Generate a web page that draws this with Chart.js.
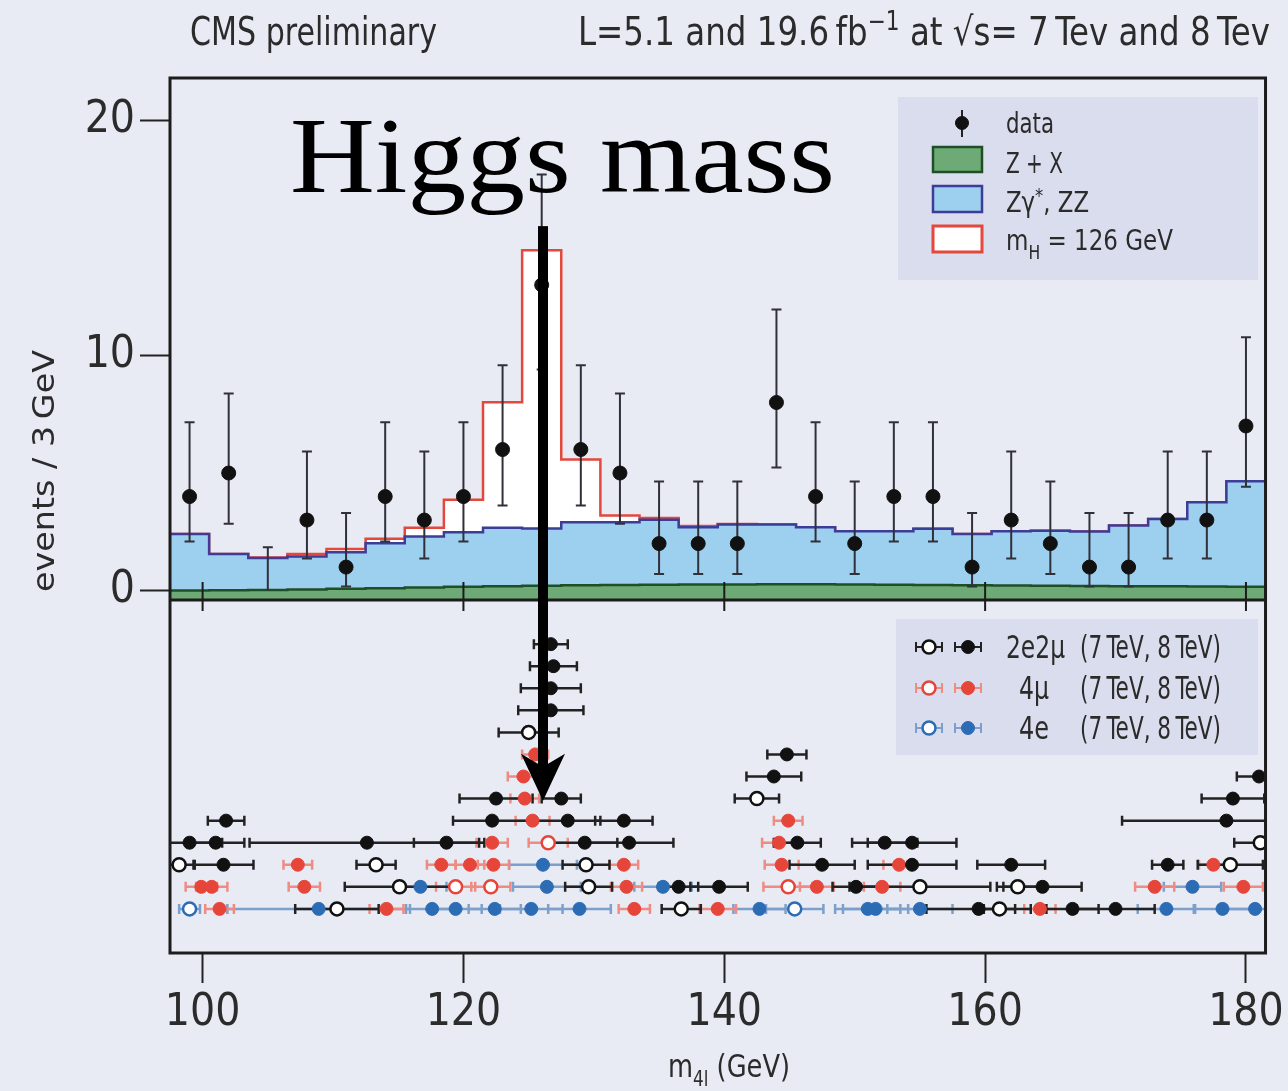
<!DOCTYPE html>
<html>
<head>
<meta charset="utf-8">
<title>Higgs mass - m4l</title>
<script src="https://cdn.jsdelivr.net/npm/chart.js@4.4.1/dist/chart.umd.min.js"></script>
<style>
  body { margin: 0; background: #e8ebf4; }
  canvas { display: block; }
</style>
</head>
<body>
<canvas id="m4lChart" width="1288" height="1091"></canvas>
<script>
// m4l spectrum, 3 GeV bins
const binCentres = [99, 102, 105, 108, 111, 114, 117, 120, 123, 126, 129, 132, 135, 138, 141, 144, 147, 150, 153, 156, 159, 162, 165, 168, 171, 174, 177, 180];
const binEdges = [97.5, 100.5, 103.5, 106.5, 109.5, 112.5, 115.5, 118.5, 121.5, 124.5, 127.5, 130.5, 133.5, 136.5, 139.5, 142.5, 145.5, 148.5, 151.5, 154.5, 157.5, 160.5, 163.5, 166.5, 169.5, 172.5, 175.5, 178.5, 181.5];

const dataCounts = [4, 5, 0, 3, 1, 4, 3, 4, 6, 13, 6, 5, 2, 2, 2, 8, 4, 2, 4, 4, 1, 3, 2, 1, 1, 3, 3, 7];
const dataErrLo = [1.91, 2.16, 0, 1.63, 0.83, 1.91, 1.63, 1.91, 2.38, 3.6, 2.38, 2.16, 1.29, 1.29, 1.29, 2.77, 1.91, 1.29, 1.91, 1.91, 0.83, 1.63, 1.29, 0.83, 0.83, 1.63, 1.63, 2.58];
const dataErrHi = [3.16, 3.38, 1.84, 2.92, 2.30, 3.16, 2.92, 3.16, 3.58, 4.7, 3.58, 3.38, 2.64, 2.64, 2.64, 3.95, 3.16, 2.64, 3.16, 3.16, 2.30, 2.92, 2.64, 2.30, 2.30, 2.92, 2.92, 3.77];

// expected yields per bin
const zxYield = [0.0, 0.01, 0.03, 0.05, 0.08, 0.1, 0.13, 0.16, 0.19, 0.21, 0.23, 0.24, 0.25, 0.26, 0.26, 0.27, 0.27, 0.26, 0.25, 0.24, 0.23, 0.22, 0.21, 0.2, 0.19, 0.18, 0.17, 0.16];
const zzYield = [2.41, 1.55, 1.36, 1.40, 1.55, 1.91, 2.17, 2.32, 2.48, 2.43, 2.68, 2.67, 2.76, 2.43, 2.55, 2.54, 2.42, 2.26, 2.27, 2.39, 2.18, 2.30, 2.34, 2.31, 2.58, 2.87, 3.59, 4.49];
const higgsYield = [0, 0, 0.02, 0.11, 0.14, 0.19, 0.37, 1.38, 5.34, 11.83, 2.66, 0.28, 0.08, 0.06, 0.02, 0, 0, 0, 0, 0, 0, 0, 0, 0, 0, 0, 0, 0];

const xTicks = [100, 120, 140, 160, 180];
const yTicks = [0, 10, 20];

// single events: [m4l, mass error, row]
const ev2e2mu8 = [
  [159.5, 4.0, 0], [166.7, 2.0, 0], [170.0, 3.0, 0],
  [136.5, 1.5, 1], [139.6, 2.2, 1], [150.1, 1.8, 1], [164.4, 3.0, 1],
  [101.6, 2.3, 2], [147.5, 2.5, 2], [154.4, 3.4, 2], [162.0, 2.6, 2], [174.0, 1.2, 2],
  [99.0, 2.5, 3], [101.0, 2.2, 3], [112.6, 9.0, 3], [118.7, 2.5, 3], [129.3, 2.5, 3], [132.7, 3.4, 3], [145.6, 1.8, 3], [152.3, 2.5, 3], [154.4, 3.4, 3],
  [101.8, 1.4, 4], [122.2, 3.0, 4], [128.0, 2.5, 4], [132.3, 2.2, 4], [178.5, 8.0, 4],
  [122.5, 2.8, 5], [127.5, 1.5, 5], [179.0, 2.4, 5],
  [143.8, 2.1, 6], [181.0, 1.7, 6],
  [144.8, 1.5, 7],
  [126.7, 2.5, 9], [126.7, 2.3, 10], [126.9, 1.8, 11], [126.7, 1.3, 12]
];
const ev2e2mu7 = [
  [110.3, 3.2, 0], [136.7, 1.5, 0], [161.1, 1.2, 0],
  [115.1, 4.2, 1], [129.6, 1.8, 1], [155.0, 5.4, 1], [162.5, 1.6, 1],
  [98.2, 1.2, 2], [113.3, 1.5, 2], [129.4, 1.8, 2], [178.8, 2.5, 2],
  [181.1, 2.0, 3],
  [142.5, 1.7, 5],
  [125.0, 2.3, 8]
];
const ev4mu8 = [
  [101.3, 1.1, 0], [114.1, 1.3, 0], [133.1, 1.2, 0], [139.5, 1.4, 0], [164.2, 1.2, 0],
  [99.9, 1.2, 1], [100.7, 1.2, 1], [107.8, 1.2, 1], [132.5, 1.2, 1], [147.1, 1.3, 1], [152.1, 1.4, 1], [173.0, 1.5, 1], [179.8, 1.5, 1],
  [107.3, 1.1, 2], [118.3, 1.1, 2], [120.5, 1.1, 2], [122.3, 1.2, 2], [132.3, 1.1, 2], [144.4, 1.3, 2], [153.4, 1.2, 2], [177.5, 1.1, 2],
  [122.2, 1.2, 3], [144.2, 1.3, 3],
  [125.3, 1.3, 4], [144.9, 1.1, 4],
  [124.7, 1.1, 5],
  [124.6, 1.2, 6],
  [125.5, 1.0, 7]
];
const ev4mu7 = [[119.4, 1.5, 1], [122.1, 1.5, 1], [144.9, 1.9, 1], [126.5, 1.5, 3]];
const ev4e8 = [
  [108.9, 7.0, 0], [117.6, 2.0, 0], [119.4, 2.0, 0], [122.4, 2.0, 0], [125.2, 2.4, 0], [128.9, 2.4, 0], [142.7, 2.0, 0], [151.0, 2.5, 0], [151.6, 2.5, 0], [155.0, 2.5, 0], [173.9, 2.2, 0], [178.2, 2.2, 0], [180.7, 2.2, 0],
  [116.7, 2.0, 1], [126.4, 2.6, 1], [135.3, 2.2, 1], [175.9, 2.2, 1],
  [126.1, 2.6, 2]
];
const ev4e7 = [[99.0, 0.8, 0], [145.4, 2.2, 0]];

const NARROW = "'Liberation Sans Narrow', 'Arial Narrow', 'DejaVu Sans Condensed', sans-serif";
const TXT = '#2b2b2b';
const BLACK = '#111111', RED = '#e6453a', BLUE = '#2b6cb4';

const eventSeries = [
  { events: ev2e2mu8, color: BLACK, bar: '#222222', open: false },
  { events: ev2e2mu7, color: BLACK, bar: '#222222', open: true },
  { events: ev4mu8, color: RED, bar: '#ee8c84', open: false },
  { events: ev4mu7, color: RED, bar: '#ee8c84', open: true },
  { events: ev4e8, color: BLUE, bar: '#7c9fcb', open: false },
  { events: ev4e7, color: BLUE, bar: '#7c9fcb', open: true }
];

// stacked histograms, drawn as steps on the bin edges
const zxTotal = zxYield;
const zzTotal = zxYield.map((v, i) => v + zzYield[i]);
const sigTotal = zzTotal.map((v, i) => v + higgsYield[i]);
function stepPoints(values) {
  return binEdges.map((e, i) => ({ x: e, y: values[Math.min(i, values.length - 1)] }));
}

function fitText(ctx, parts, x, y, width, family) {
  // parts: [text, size, dy]
  ctx.save();
  let total = 0;
  parts.forEach(p => { ctx.font = p[1] + 'px ' + family; total += ctx.measureText(p[0]).width; });
  ctx.translate(x, y);
  ctx.scale(width / total, 1);
  ctx.textAlign = 'left';
  ctx.textBaseline = 'alphabetic';
  let cx = 0;
  parts.forEach(p => {
    ctx.font = p[1] + 'px ' + family;
    ctx.fillText(p[0], cx, p[2]);
    cx += ctx.measureText(p[0]).width;
  });
  ctx.restore();
}

function marker(ctx, x, y, r, color, open) {
  ctx.beginPath();
  ctx.arc(x, y, r, 0, Math.PI * 2);
  ctx.fillStyle = open ? '#ffffff' : color;
  ctx.fill();
  ctx.lineWidth = open ? 2.5 : 1;
  ctx.strokeStyle = color;
  ctx.stroke();
}

const m4lDecor = {
  id: 'm4lDecor',
  afterDatasetDraw(chart, args) {
    if (args.index !== 2) return;
    const { ctx, chartArea: a } = chart;
    const { x, yTop, yLow } = chart.scales;
    ctx.save();
    ctx.beginPath();
    ctx.rect(a.left, a.top, a.right - a.left, a.bottom - a.top);
    ctx.clip();
    // data error bars
    ctx.strokeStyle = '#30303a';
    ctx.lineWidth = 2;
    binCentres.forEach((m, i) => {
      const px = x.getPixelForValue(m);
      const hi = yTop.getPixelForValue(dataCounts[i] + dataErrHi[i]);
      const lo = yTop.getPixelForValue(dataCounts[i] - dataErrLo[i]);
      ctx.beginPath();
      ctx.moveTo(px, hi); ctx.lineTo(px, lo);
      ctx.moveTo(px - 5, hi); ctx.lineTo(px + 5, hi);
      if (dataErrLo[i] > 0) { ctx.moveTo(px - 5, lo); ctx.lineTo(px + 5, lo); }
      ctx.stroke();
    });
    // per-event mass errors
    eventSeries.slice().reverse().forEach(s => {
      ctx.strokeStyle = s.bar;
      ctx.lineWidth = 2.5;
      s.events.forEach(ev => {
        const l = x.getPixelForValue(ev[0] - ev[1]);
        const r = x.getPixelForValue(ev[0] + ev[1]);
        const py = yLow.getPixelForValue(ev[2]);
        ctx.beginPath();
        ctx.moveTo(l, py); ctx.lineTo(r, py);
        ctx.moveTo(l, py - 5); ctx.lineTo(l, py + 5);
        ctx.moveTo(r, py - 5); ctx.lineTo(r, py + 5);
        ctx.stroke();
      });
    });
    ctx.restore();
  },
  afterDraw(chart) {
    const { ctx, chartArea: a } = chart;
    const { x, yTop, yLow } = chart.scales;
    const sep = yTop.bottom;
    ctx.save();

    // frame and panel separator
    ctx.strokeStyle = '#1c1c1c';
    ctx.lineWidth = 3;
    ctx.strokeRect(a.left, a.top, a.right - a.left, a.bottom - a.top);
    ctx.beginPath();
    ctx.moveTo(a.left, sep); ctx.lineTo(a.right, sep);
    ctx.stroke();
    ctx.lineWidth = 2;
    ctx.beginPath();
    xTicks.forEach(v => {
      const px = x.getPixelForValue(v);
      ctx.moveTo(px, sep - 18); ctx.lineTo(px, sep + 11);
    });
    ctx.stroke();

    ctx.fillStyle = TXT;
    // header
    fitText(ctx, [['CMS preliminary', 39, 0]], 190, 45, 247, NARROW);
    fitText(ctx, [['L=5.1 and 19.6\u2009fb', 39, 0], ['\u22121', 26, -15], [' at \u221As= 7\u2009Tev and 8\u2009Tev', 39, 0]], 578, 45, 692, NARROW);

    // axis titles
    ctx.save();
    ctx.translate(54, 592);
    ctx.rotate(-Math.PI / 2);
    ctx.fillStyle = TXT;
    fitText(ctx, [['events / 3\u2009GeV', 30, 0]], 0, 0, 242, NARROW);
    ctx.restore();
    fitText(ctx, [['m', 32, 0], ['4l', 21, 9], [' (GeV)', 32, 0]], 668, 1077, 122, NARROW);

    // legend, upper panel
    ctx.fillStyle = '#dadded';
    ctx.fillRect(898, 97, 360, 183);
    ctx.strokeStyle = '#222';
    ctx.lineWidth = 2;
    ctx.beginPath(); ctx.moveTo(962, 110); ctx.lineTo(962, 137); ctx.stroke();
    marker(ctx, 962, 123, 6.5, BLACK, false);
    ctx.fillStyle = '#6daa76'; ctx.fillRect(933, 147, 49, 25);
    ctx.strokeStyle = '#1f4f27'; ctx.lineWidth = 2.5; ctx.strokeRect(933, 147, 49, 25);
    ctx.fillStyle = '#9dcfee'; ctx.fillRect(933, 186, 49, 26);
    ctx.strokeStyle = '#3d3d97'; ctx.strokeRect(933, 186, 49, 26);
    ctx.fillStyle = '#ffffff'; ctx.fillRect(933, 226, 49, 26);
    ctx.strokeStyle = '#e4473c'; ctx.lineWidth = 3; ctx.strokeRect(933, 226, 49, 26);
    ctx.fillStyle = TXT;
    fitText(ctx, [['data', 28, 0]], 1006, 133, 48, NARROW);
    fitText(ctx, [['Z + X', 28, 0]], 1006, 173, 57, NARROW);
    fitText(ctx, [['Z\u03B3', 28, 0], ['*', 20, -10], [', ZZ', 28, 0]], 1006, 212, 83, NARROW);
    fitText(ctx, [['m', 28, 0], ['H', 19, 9], [' = 126 GeV', 28, 0]], 1006, 250, 167, NARROW);

    // legend, lower panel
    ctx.fillStyle = '#dadded';
    ctx.fillRect(896, 619, 362, 136);
    const legRows = [
      { y: 647, color: BLACK, bar: '#222222', name: '2e2\u03BC', nx: 1006, nw: 59 },
      { y: 688, color: RED, bar: '#ee8c84', name: '4\u03BC', nx: 1019, nw: 30 },
      { y: 728, color: BLUE, bar: '#7c9fcb', name: '4e', nx: 1019, nw: 30 }
    ];
    legRows.forEach(r => {
      [929, 968].forEach((mx, k) => {
        ctx.strokeStyle = r.bar;
        ctx.lineWidth = 2;
        ctx.beginPath();
        ctx.moveTo(mx - 13, r.y); ctx.lineTo(mx + 13, r.y);
        ctx.moveTo(mx - 13, r.y - 5); ctx.lineTo(mx - 13, r.y + 5);
        ctx.moveTo(mx + 13, r.y - 5); ctx.lineTo(mx + 13, r.y + 5);
        ctx.stroke();
        marker(ctx, mx, r.y, 6.5, r.color, k === 0);
      });
      ctx.fillStyle = TXT;
      fitText(ctx, [[r.name, 32, 0]], r.nx, r.y + 11, r.nw, NARROW);
      fitText(ctx, [['(7\u2009TeV, 8\u2009TeV)', 32, 0]], 1080, r.y + 11, 141, NARROW);
    });

    // annotation
    ctx.fillStyle = '#000';
    fitText(ctx, [['Higgs mass', 108, 0]], 290, 192, 545, "'Liberation Serif', 'DejaVu Serif', serif");
    const ax = x.getPixelForValue(126.1);
    const aTop = yTop.getPixelForValue(15.5);
    const aTip = yLow.getPixelForValue(4.9);
    ctx.fillRect(ax - 5, aTop, 10, aTip - aTop - 30);
    ctx.beginPath();
    ctx.moveTo(ax, aTip);
    ctx.lineTo(ax - 22, aTip - 47);
    ctx.lineTo(ax, aTip - 34);
    ctx.lineTo(ax + 22, aTip - 47);
    ctx.closePath();
    ctx.fill();
    ctx.restore();
  }
};

const histLine = (label, values, fillColor, lineColor, order) => ({
  type: 'line',
  label: label,
  data: stepPoints(values),
  yAxisID: 'yTop',
  stepped: true,
  fill: 'start',
  backgroundColor: fillColor,
  borderColor: lineColor,
  borderWidth: 2.5,
  pointRadius: 0,
  order: order
});

const eventSets = eventSeries.map(s => ({
  type: 'scatter',
  data: s.events.map(ev => ({ x: ev[0], y: ev[2] })),
  yAxisID: 'yLow',
  pointRadius: 6.5,
  pointBackgroundColor: s.open ? '#ffffff' : s.color,
  pointBorderColor: s.color,
  pointBorderWidth: s.open ? 2.5 : 1,
  order: 0
}));

const ctx = document.getElementById('m4lChart').getContext('2d');
const m4lChart = new Chart(ctx, {
  type: 'scatter',
  data: {
    datasets: [
      histLine('mH = 126 GeV', sigTotal, '#ffffff', '#e4473c', 3),
      histLine('Zy*, ZZ', zzTotal, '#9dcfee', '#3d3d97', 2),
      histLine('Z + X', zxTotal, '#6daa76', '#1f4f27', 1),
      {
        type: 'scatter',
        label: 'data',
        data: binCentres.map((m, i) => ({ x: m, y: dataCounts[i] })),
        yAxisID: 'yTop',
        pointRadius: c => (c.raw && c.raw.y > 0 ? 7 : 0),
        pointBackgroundColor: BLACK,
        pointBorderColor: BLACK,
        order: 0
      }
    ].concat(eventSets)
  },
  options: {
    responsive: false,
    animation: false,
    devicePixelRatio: 1,
    layout: { padding: { top: 78, right: 15, bottom: 0, left: 0 } },
    plugins: { legend: { display: false }, tooltip: { enabled: false } },
    scales: {
      x: {
        type: 'linear',
        position: 'bottom',
        min: 97.5,
        max: 181.5,
        afterBuildTicks: axis => { axis.ticks = xTicks.map(v => ({ value: v })); },
        afterFit: axis => { axis.height = 138; },
        border: { display: false },
        grid: { drawOnChartArea: false, drawTicks: true, tickLength: 30, tickWidth: 2, tickColor: '#222' },
        ticks: { font: { family: NARROW, size: 44 }, color: TXT, padding: 4, maxRotation: 0 }
      },
      yLow: {
        type: 'linear',
        position: 'left',
        stack: 'm4l',
        stackWeight: 353,
        min: -2,
        max: 14,
        afterFit: axis => { axis.width = 170; },
        border: { display: false },
        grid: { display: false },
        ticks: { display: false }
      },
      yTop: {
        type: 'linear',
        position: 'left',
        stack: 'm4l',
        stackWeight: 522,
        min: -0.4,
        max: 21.8,
        afterBuildTicks: axis => { axis.ticks = yTicks.map(v => ({ value: v })); },
        afterFit: axis => { axis.width = 170; },
        border: { display: false },
        grid: { drawOnChartArea: false, drawTicks: true, tickLength: 30, tickWidth: 2, tickColor: '#222' },
        ticks: { font: { family: NARROW, size: 44 }, color: TXT, padding: 5 }
      }
    }
  },
  plugins: [m4lDecor]
});
</script>
</body>
</html>
